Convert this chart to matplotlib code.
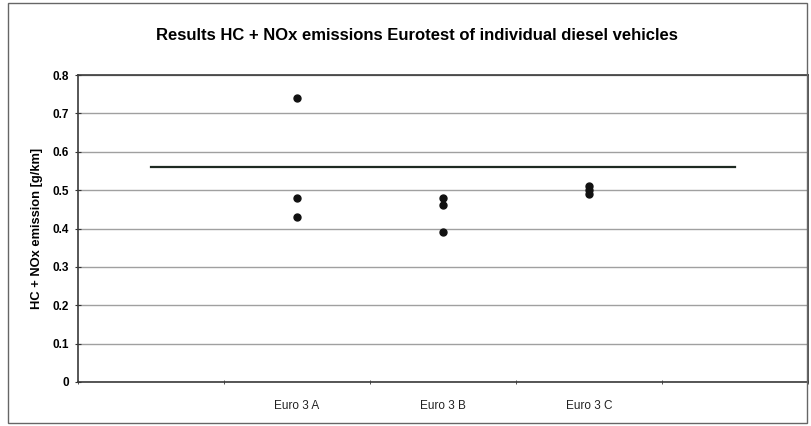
import numpy as np
import matplotlib.pyplot as plt

categories = ["", "Euro 3 A", "Euro 3 B", "Euro 3 C", ""]
limit = [0.56, 0.56, 0.56, 0.56, 0.56]
euro3a = [0.74, 0.48, 0.43]
euro3b = [0.48, 0.46, 0.39]
euro3c = [0.51, 0.50, 0.49]

plt.rcParams["font.family"] = ["Liberation Sans", "DejaVu Sans"]

fig = plt.figure(figsize=(8.11, 4.26), dpi=100)
ax = fig.add_axes([78/811, 1-382/426, 730/811, 307/426])

# outer chart frame
fig.patches.append(plt.Rectangle((8/811, 3/426), 0.995-8/811, 420/426,
                                 transform=fig.transFigure, fill=False,
                                 edgecolor="#666666", linewidth=1))

x = np.arange(len(categories))
ax.plot(x, limit, "-", color="#1e2a22", linewidth=1.6, zorder=3)
for i, vals in zip([1, 2, 3], [euro3a, euro3b, euro3c]):
    ax.plot([i]*len(vals), vals, "o", color="#111111", markersize=5, zorder=4)

ax.set_xlim(-0.5, 4.5)
ax.set_ylim(0, 0.8)
ax.set_yticks(np.arange(0, 0.81, 0.1))
ax.set_yticklabels(["0"] + ["%.1f" % v for v in np.arange(0.1, 0.81, 0.1)],
                   fontsize=8.5, fontweight="bold")
ax.set_xticks(x)
ax.set_xticklabels(categories, fontsize=8.5, color="#222222")
ax.tick_params(axis="x", length=0, pad=13)
ax.set_xticks(np.arange(-0.5, 4.6, 1), minor=True)
ax.tick_params(axis="x", which="minor", length=3, direction="inout", color="#333333")
ax.tick_params(axis="y", length=5, direction="inout", color="#333333", pad=4)
ax.grid(axis="y", color="#a0a0a0", linewidth=1)
ax.set_axisbelow(True)
for s in ax.spines.values():
    s.set_color("#3a3a3a")
    s.set_linewidth(1.2)

ax.set_ylabel("HC + NOx emission [g/km]", fontsize=9.3, fontweight="bold", labelpad=7)
fig.text(417/811, 1-36/426, "Results HC + NOx emissions Eurotest of individual diesel vehicles",
         ha="center", va="center", fontsize=12, fontweight="bold")

fig.savefig("out.png", dpi=100)
